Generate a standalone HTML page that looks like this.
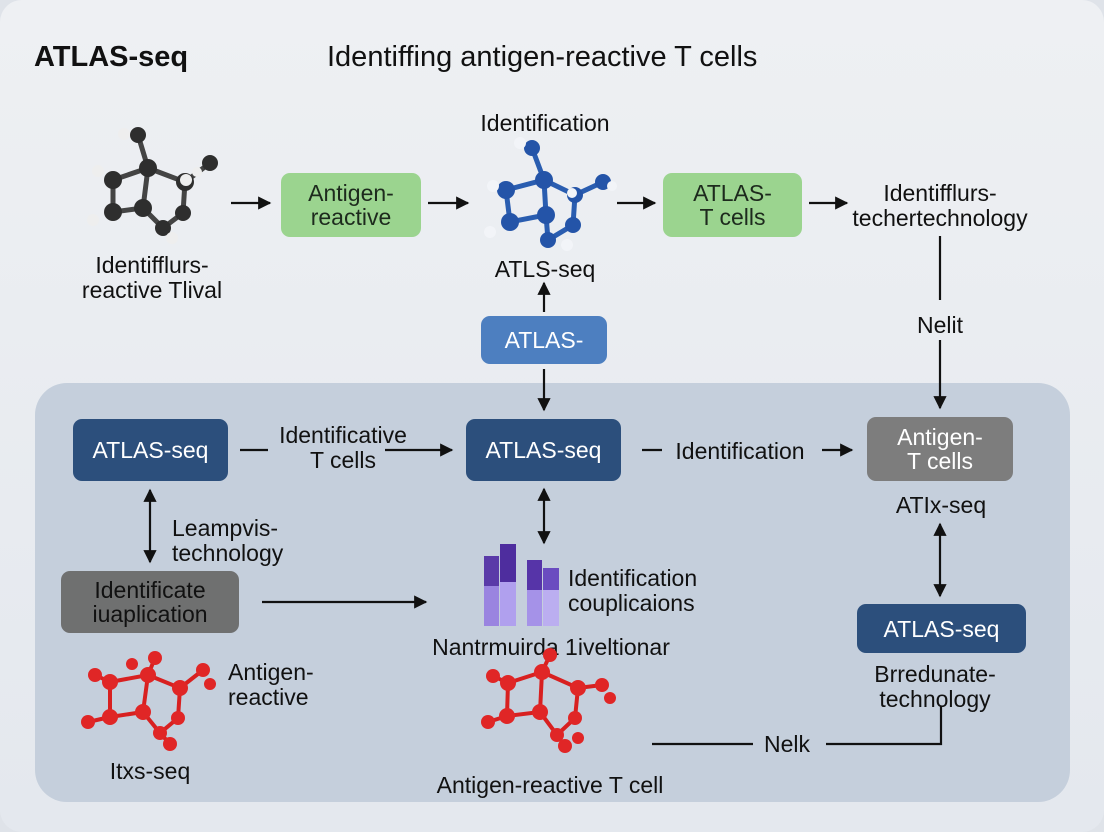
<!DOCTYPE html>
<html><head><meta charset="utf-8"><style>
body{margin:0;width:1104px;height:832px;overflow:hidden;background:#dfe3e9;font-family:"Liberation Sans",sans-serif;}
.bg{position:absolute;left:0;top:0;width:1104px;height:832px;border-radius:22px;background:linear-gradient(#eef0f3,#e4e8ee);}
.panel{position:absolute;left:35px;top:383px;width:1035px;height:419px;border-radius:32px;background:#c5cfdc;}
.t{position:absolute;color:#111;font-size:23px;line-height:25px;text-align:center;white-space:nowrap}
.b{position:absolute;border-radius:9px;display:flex;align-items:center;justify-content:center;text-align:center;font-size:23px;line-height:24px;white-space:nowrap}
.g{background:#9bd48f;color:#1d2a1d}
.n{background:#2c4f7c;color:#fff}
.gr{background:#7d7d7d;color:#fff}
.gy{background:#6f7070;color:#111}
svg{position:absolute;left:0;top:0}
</style></head><body>
<div class="bg"></div>
<div class="panel"></div>
<div class="t" style="left:34px;top:42px;font-size:29px;line-height:30px;font-weight:bold;text-align:left">ATLAS-seq</div>
<div class="t" style="left:327px;top:42px;font-size:29px;line-height:30px;text-align:left">Identiffing antigen-reactive T cells</div>

<div class="b g" style="left:281px;top:173px;width:140px;height:64px">Antigen-<br>reactive</div>
<div class="b g" style="left:663px;top:173px;width:139px;height:64px">ATLAS-<br>T cells</div>
<div class="b" style="left:481px;top:316px;width:126px;height:48px;background:#4d7fc0;color:#fff">ATLAS-</div>
<div class="b n" style="left:73px;top:419px;width:155px;height:62px">ATLAS-seq</div>
<div class="b n" style="left:466px;top:419px;width:155px;height:62px">ATLAS-seq</div>
<div class="b gr" style="left:867px;top:417px;width:146px;height:64px">Antigen-<br>T cells</div>
<div class="b gy" style="left:61px;top:571px;width:178px;height:62px">Identificate<br>iuaplication</div>
<div class="b n" style="left:857px;top:604px;width:169px;height:49px">ATLAS-seq</div>

<div class="t" style="left:52px;top:253px;width:200px">Identifflurs-<br>reactive Tlival</div>
<div class="t" style="left:445px;top:111px;width:200px">Identification</div>
<div class="t" style="left:465px;top:257px;width:160px">ATLS-seq</div>
<div class="t" style="left:840px;top:181px;width:200px">Identifflurs-<br>techertechnology</div>
<div class="t" style="left:900px;top:313px;width:80px">Nelit</div>
<div class="t" style="left:248px;top:423px;width:190px">Identificative<br>T cells</div>
<div class="t" style="left:664px;top:439px;width:152px">Identification</div>
<div class="t" style="left:866px;top:493px;width:150px">ATIx-seq</div>
<div class="t" style="left:172px;top:516px;text-align:left">Leampvis-<br>technology</div>
<div class="t" style="left:568px;top:566px;text-align:left">Identification<br>couplicaions</div>
<div class="t" style="left:410px;top:635px;width:282px">Nantrmuirda 1iveltionar</div>
<div class="t" style="left:228px;top:660px;text-align:left">Antigen-<br>reactive</div>
<div class="t" style="left:835px;top:662px;width:200px">Brredunate-<br>technology</div>
<div class="t" style="left:80px;top:759px;width:140px">Itxs-seq</div>
<div class="t" style="left:400px;top:773px;width:300px">Antigen-reactive T cell</div>
<div class="t" style="left:752px;top:732px;width:70px">Nelk</div>

<svg width="1104" height="832">
<defs><marker id="a" viewBox="0 0 10 10" refX="9" refY="5" markerWidth="6" markerHeight="6" orient="auto-start-reverse"><path d="M0,0L10,5L0,10z" fill="#111"/></marker></defs>
<g stroke="#111" stroke-width="2.2" fill="none">
<line x1="231" y1="203" x2="270" y2="203" marker-end="url(#a)"/>
<line x1="428" y1="203" x2="468" y2="203" marker-end="url(#a)"/>
<line x1="617" y1="203" x2="655" y2="203" marker-end="url(#a)"/>
<line x1="809" y1="203" x2="847" y2="203" marker-end="url(#a)"/>
<line x1="544" y1="312" x2="544" y2="283" marker-end="url(#a)"/>
<line x1="544" y1="369" x2="544" y2="410" marker-end="url(#a)"/>
<line x1="940" y1="236" x2="940" y2="300"/>
<line x1="940" y1="340" x2="940" y2="408" marker-end="url(#a)"/>
<line x1="240" y1="450" x2="268" y2="450"/>
<line x1="385" y1="450" x2="452" y2="450" marker-end="url(#a)"/>
<line x1="642" y1="450" x2="662" y2="450"/>
<line x1="822" y1="450" x2="852" y2="450" marker-end="url(#a)"/>
<line x1="150" y1="490" x2="150" y2="562" marker-start="url(#a)" marker-end="url(#a)"/>
<line x1="544" y1="489" x2="544" y2="543" marker-start="url(#a)" marker-end="url(#a)"/>
<line x1="940" y1="524" x2="940" y2="596" marker-start="url(#a)" marker-end="url(#a)"/>
<line x1="262" y1="602" x2="426" y2="602" marker-end="url(#a)"/>
<polyline points="652,744 753,744"/>
<polyline points="826,744 941,744 941,706"/>
</g>
<g>
<rect x="484" y="556" width="15" height="70" fill="#9a84e0"/><rect x="484" y="556" width="15" height="30" fill="#5a3aa8"/>
<rect x="500" y="544" width="16" height="82" fill="#b0a0ee"/><rect x="500" y="544" width="16" height="38" fill="#4e2d9e"/>
<rect x="527" y="560" width="15" height="66" fill="#a592e8"/><rect x="527" y="560" width="15" height="30" fill="#5634a8"/>
<rect x="543" y="568" width="16" height="58" fill="#bbaef0"/><rect x="543" y="568" width="16" height="22" fill="#6a4cc0"/>
</g>
<g stroke="#444" stroke-width="5" fill="none">
<path d="M113,180 L148,168 L143,208 L113,212 Z M148,168 L185,182 L183,213 L163,228 L143,208 M148,168 L138,135 M185,182 L210,163"/>
</g>
<g fill="#2e2e2e"><circle cx="113" cy="180" r="9"/><circle cx="148" cy="168" r="9"/><circle cx="143" cy="208" r="9"/><circle cx="113" cy="212" r="9"/><circle cx="185" cy="182" r="9"/><circle cx="183" cy="213" r="8"/><circle cx="163" cy="228" r="8"/><circle cx="138" cy="135" r="8"/><circle cx="210" cy="163" r="8"/></g>
<g fill="#eee"><circle cx="124" cy="134" r="6"/><circle cx="98" cy="171" r="6"/><circle cx="93" cy="220" r="6"/><circle cx="172" cy="238" r="6"/><circle cx="186" cy="180" r="6"/><circle cx="197" cy="172" r="5"/></g>
<g stroke="#2a5db0" stroke-width="5" fill="none">
<path d="M506,190 L544,180 L546,215 L510,222 Z M544,180 L575,195 L573,225 L548,240 L546,215 M544,180 L532,148 M575,195 L603,182"/>
</g>
<g fill="#2454a8"><circle cx="506" cy="190" r="9"/><circle cx="544" cy="180" r="9"/><circle cx="546" cy="215" r="9"/><circle cx="510" cy="222" r="9"/><circle cx="575" cy="195" r="8"/><circle cx="573" cy="225" r="8"/><circle cx="548" cy="240" r="8"/><circle cx="532" cy="148" r="8"/><circle cx="603" cy="182" r="8"/></g>
<g fill="#f2f4f8"><circle cx="520" cy="143" r="6"/><circle cx="493" cy="186" r="6"/><circle cx="490" cy="232" r="6"/><circle cx="567" cy="245" r="6"/><circle cx="572" cy="193" r="5"/><circle cx="612" cy="186" r="5"/></g>
<g stroke="#d82020" stroke-width="4" fill="none">
<path d="M110,682 L148,675 L143,712 L110,717 Z M148,675 L180,688 L178,718 L160,733 L143,712 M148,675 L155,658 M180,688 L203,670 M110,717 L88,722 M160,733 L170,744 M110,682 L95,675"/>
<path d="M508,683 L542,672 L540,712 L507,716 Z M542,672 L578,688 L575,718 L557,735 L540,712 M542,672 L550,655 M578,688 L602,685 M507,716 L488,722 M557,735 L565,746 M508,683 L493,676"/>
</g>
<g fill="#e02626">
<circle cx="110" cy="682" r="8"/><circle cx="148" cy="675" r="8"/><circle cx="143" cy="712" r="8"/><circle cx="110" cy="717" r="8"/><circle cx="180" cy="688" r="8"/><circle cx="178" cy="718" r="7"/><circle cx="160" cy="733" r="7"/><circle cx="155" cy="658" r="7"/><circle cx="203" cy="670" r="7"/><circle cx="88" cy="722" r="7"/><circle cx="170" cy="744" r="7"/><circle cx="95" cy="675" r="7"/><circle cx="210" cy="684" r="6"/><circle cx="132" cy="664" r="6"/>
<circle cx="508" cy="683" r="8"/><circle cx="542" cy="672" r="8"/><circle cx="540" cy="712" r="8"/><circle cx="507" cy="716" r="8"/><circle cx="578" cy="688" r="8"/><circle cx="575" cy="718" r="7"/><circle cx="557" cy="735" r="7"/><circle cx="550" cy="655" r="7"/><circle cx="602" cy="685" r="7"/><circle cx="488" cy="722" r="7"/><circle cx="565" cy="746" r="7"/><circle cx="493" cy="676" r="7"/><circle cx="610" cy="698" r="6"/><circle cx="578" cy="738" r="6"/>
</g>
</svg>
</body></html>
